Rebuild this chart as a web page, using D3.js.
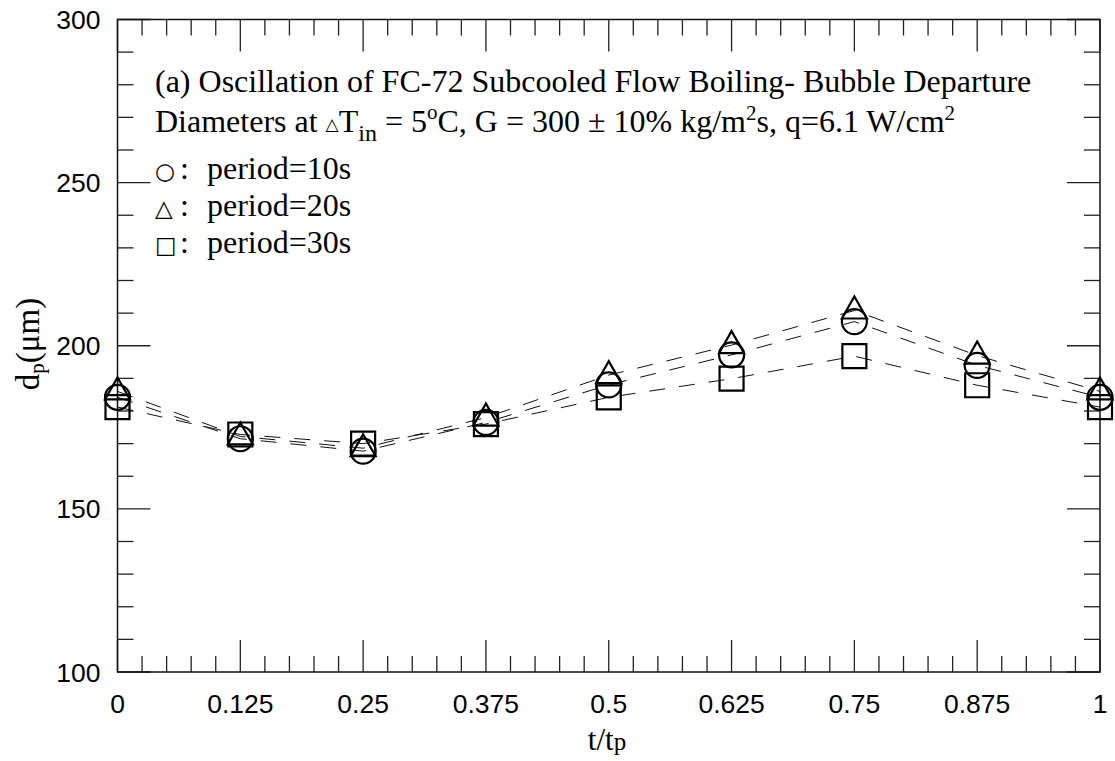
<!DOCTYPE html>
<html>
<head>
<meta charset="utf-8">
<script src="https://cdn.jsdelivr.net/npm/d3@7"></script>
<style>
  body { margin: 0; background: #fff; }
  svg { display: block; }
</style>
</head>
<body>
<div id="chart"></div>
<script>
// bubble departure diameter over one oscillation period
const tRatio = [0, 0.125, 0.25, 0.375, 0.5, 0.625, 0.75, 0.875, 1];
const period10 = [184.2, 171.5, 167.7, 176.5, 188.0, 197.2, 207.4, 194.0, 184.2];
const period20 = [186.0, 172.2, 168.6, 178.0, 191.0, 200.2, 210.8, 197.0, 186.0];
const period30 = [181.2, 172.8, 170.0, 176.0, 184.2, 189.9, 196.8, 187.9, 181.2];

const xTicks = [0, 0.125, 0.25, 0.375, 0.5, 0.625, 0.75, 0.875, 1];
const yTicks = [100, 150, 200, 250, 300];

const series = [
  { name: "period=10s", symbol: "circle", values: period10 },
  { name: "period=20s", symbol: "triangle", values: period20 },
  { name: "period=30s", symbol: "square", values: period30 }
];

const width = 1115, height = 761;
const margin = { top: 19.5, right: 15, bottom: 89, left: 117.5 };

const svg = d3.select("#chart").append("svg")
  .attr("width", width)
  .attr("height", height);

const x = d3.scaleLinear().domain([0, 1]).range([margin.left, width - margin.right]);
const y = d3.scaleLinear().domain([100, 300]).range([height - margin.bottom, margin.top]);

const x0 = x.range()[0], x1 = x.range()[1];
const y0 = y.range()[0], y1 = y.range()[1];

// minor / major ticks on all four sides, pointing inward
const xMinor = d3.range(0, 1.0001, 0.025);
const yMinor = d3.range(100, 300.001, 10);
const isMajorX = v => Math.abs(v / 0.125 - Math.round(v / 0.125)) < 1e-6;
const isMajorY = v => Math.abs(v % 50) < 1e-6;

const ticks = svg.append("g").attr("stroke", "#222").attr("stroke-width", 1.3);

ticks.selectAll(".xb").data(xMinor).join("line")
  .attr("x1", d => x(d)).attr("x2", d => x(d))
  .attr("y1", y0).attr("y2", d => y0 - (isMajorX(d) ? 32 : 16));
ticks.selectAll(".xt").data(xMinor).join("line")
  .attr("x1", d => x(d)).attr("x2", d => x(d))
  .attr("y1", y1).attr("y2", d => y1 + (isMajorX(d) ? 32 : 16));
ticks.selectAll(".yl").data(yMinor).join("line")
  .attr("y1", d => y(d)).attr("y2", d => y(d))
  .attr("x1", x0).attr("x2", d => x0 + (isMajorY(d) ? 33 : 16));
ticks.selectAll(".yr").data(yMinor).join("line")
  .attr("y1", d => y(d)).attr("y2", d => y(d))
  .attr("x1", x1).attr("x2", d => x1 - (isMajorY(d) ? 33 : 16));

// frame
svg.append("rect")
  .attr("x", x0).attr("y", y1)
  .attr("width", x1 - x0).attr("height", y0 - y1)
  .attr("fill", "none").attr("stroke", "#111").attr("stroke-width", 1.5);

// tick labels
svg.append("g")
  .attr("font-family", "'Liberation Sans', Arial, sans-serif")
  .attr("font-size", 26.5)
  .attr("text-anchor", "middle")
  .selectAll("text").data(xTicks).join("text")
  .attr("x", d => x(d)).attr("y", y0 + 41)
  .text(d => d3.format("")(d));

svg.append("g")
  .attr("font-family", "'Liberation Sans', Arial, sans-serif")
  .attr("font-size", 26.5)
  .attr("text-anchor", "end")
  .selectAll("text").data(yTicks).join("text")
  .attr("x", x0 - 17).attr("y", d => y(d)).attr("dy", "0.36em")
  .text(d => d);

// axis titles
const xt = svg.append("text")
  .attr("font-family", "'Liberation Serif', 'Times New Roman', serif")
  .attr("font-size", 31)
  .attr("text-anchor", "middle")
  .attr("x", 607).attr("y", 750);
xt.append("tspan").text("t/t");
xt.append("tspan").attr("font-size", 25).text("p");

const yt = svg.append("text")
  .attr("font-family", "'Liberation Serif', 'Times New Roman', serif")
  .attr("font-size", 33)
  .attr("text-anchor", "middle")
  .attr("transform", `translate(39,344) rotate(-90)`);
yt.append("tspan").text("d");
yt.append("tspan").attr("font-size", 21).attr("dy", 5).text("p");
yt.append("tspan").attr("dy", -5).text("(\u03bcm)");

// dashed connecting lines
const line = d3.line().x(d => x(d[0])).y(d => y(d[1]));

svg.append("g")
  .selectAll("path").data(series).join("path")
  .attr("d", s => line(tRatio.map((t, i) => [t, s.values[i]])))
  .attr("fill", "none")
  .attr("stroke", "#111")
  .attr("stroke-width", 1)
  .attr("stroke-dasharray", "16,14");

// markers
const symbolPath = {
  circle: "M-12.5,0A12.5,12.5 0 1,0 12.5,0A12.5,12.5 0 1,0 -12.5,0Z",
  triangle: "M0,-14L12.5,8L-12.5,8Z",
  square: "M-12,-12H12V12H-12Z"
};

svg.append("g")
  .selectAll("g").data(series).join("g")
  .selectAll("path").data(s => tRatio.map((t, i) => ({ t, v: s.values[i], symbol: s.symbol })))
  .join("path")
  .attr("transform", d => `translate(${x(d.t)},${y(d.v)})`)
  .attr("d", d => symbolPath[d.symbol])
  .attr("fill", "none")
  .attr("stroke", "#000")
  .attr("stroke-width", 2.2);

// annotation
const note = svg.append("g")
  .attr("font-family", "'Liberation Serif', 'Times New Roman', serif")
  .attr("font-size", 32)
  .attr("fill", "#000");

note.append("text").attr("x", 155).attr("y", 92)
  .text("(a) Oscillation of FC-72 Subcooled Flow Boiling- Bubble Departure");

const l2 = note.append("text").attr("x", 155).attr("y", 132);
l2.append("tspan").text("Diameters at ");
l2.append("tspan").attr("font-family", "'DejaVu Sans', sans-serif").attr("font-size", 17).attr("dy", -2).text("\u25b3");
l2.append("tspan").attr("dy", 2).text("T");
l2.append("tspan").attr("font-size", 24).attr("dy", 9).text("in");
l2.append("tspan").attr("dy", -9).text(" = 5");
l2.append("tspan").attr("font-size", 21).attr("dy", -13).text("o");
l2.append("tspan").attr("dy", 13).text("C, G = 300 \u00b1 10% kg/m");
l2.append("tspan").attr("font-size", 21).attr("dy", -12).text("2");
l2.append("tspan").attr("dy", 12).text("s, q=6.1 W/cm");
l2.append("tspan").attr("font-size", 21).attr("dy", -12).text("2");

const legendGlyph = { circle: "\u25cb", triangle: "\u25b3", square: "\u25a1" };

series.forEach((s, i) => {
  const t = note.append("text").attr("y", 179 + i * 37);
  t.append("tspan").attr("x", 155).attr("font-family", "'DejaVu Sans', sans-serif").attr("font-size", 23).text(legendGlyph[s.symbol]);
  t.append("tspan").attr("x", 180).text(":");
  t.append("tspan").attr("x", 207).text(s.name);
});
</script>
</body>
</html>
